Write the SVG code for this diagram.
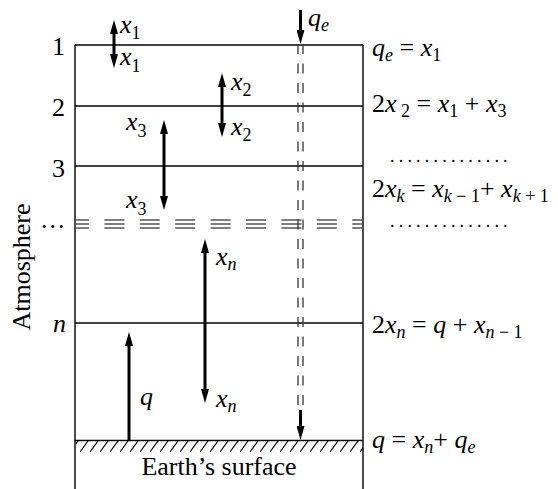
<svg xmlns="http://www.w3.org/2000/svg" width="558" height="489" viewBox="0 0 558 489">
<style>
text{font-family:"Liberation Serif","Times New Roman",serif;font-size:26px;fill:#000}
.i{font-style:italic}
.s{font-size:18px}
.dots{font-size:18px;letter-spacing:4.2px}
.ln{stroke:#000;stroke-width:1.4;fill:none}
.dl{stroke:#555;stroke-width:1.4;stroke-dasharray:20 15.4;stroke-dashoffset:6;fill:none}
.qd{stroke:#333;stroke-width:1.3;stroke-dasharray:10 9.5;fill:none}
.ar{stroke:#000;stroke-width:3;fill:none}
.h{stroke:#000;stroke-width:1.2}
</style>
<defs>
<marker id="ah" viewBox="0 0 14 8" refX="4" refY="4" markerWidth="14" markerHeight="8" markerUnits="userSpaceOnUse" orient="auto-start-reverse"><path d="M0,0 L14,4 L0,8 z" fill="#000"/></marker>
<pattern id="hatch" x="0" y="441" width="10" height="12" patternUnits="userSpaceOnUse"><line x1="0" y1="11" x2="8" y2="0" class="h"/></pattern>
</defs>
<g id="frame">
<line class="ln" x1="75" y1="45" x2="75" y2="489"/>
<line class="ln" x1="363" y1="45" x2="363" y2="489"/>
<line class="ln" x1="75" y1="45" x2="363" y2="45"/>
<line class="ln" x1="75" y1="106" x2="363" y2="106"/>
<line class="ln" x1="75" y1="166" x2="363" y2="166"/>
<line class="ln" x1="75" y1="323" x2="363" y2="323"/>
<line class="dl" x1="75" y1="220" x2="363" y2="220"/>
<line class="dl" x1="75" y1="224" x2="363" y2="224"/>
<line class="dl" x1="75" y1="228" x2="363" y2="228"/>
</g>
<g id="ground">
<line x1="75" y1="440.5" x2="363" y2="440.5" stroke="#000" stroke-width="1.6"/>
<rect x="76" y="441" width="287" height="12" fill="url(#hatch)"/>
<text x="219" y="475" text-anchor="middle">Earth’s surface</text>
</g>
<g id="connectors">
<line class="qd" x1="298" y1="44" x2="298" y2="412"/>
<line class="qd" x1="303" y1="44" x2="303" y2="412"/>
<line class="ar" x1="300.5" y1="10" x2="300.5" y2="34" marker-end="url(#ah)"/>
<line class="ar" x1="300.5" y1="410" x2="300.5" y2="430" stroke-width="2" marker-end="url(#ah)"/>
<line class="ar" x1="114" y1="30" x2="114" y2="58" marker-start="url(#ah)" marker-end="url(#ah)"/>
<line class="ar" x1="222" y1="83" x2="222" y2="127" marker-start="url(#ah)" marker-end="url(#ah)"/>
<line class="ar" x1="164" y1="130" x2="164" y2="200" marker-start="url(#ah)" marker-end="url(#ah)"/>
<line class="ar" x1="205" y1="249" x2="205" y2="393" marker-start="url(#ah)" marker-end="url(#ah)"/>
<line class="ar" x1="129" y1="440" x2="129" y2="342" marker-end="url(#ah)"/>
</g>
<g id="arrow-labels">
<text x="120" y="33" class="i">x<tspan class="s" font-style="normal" dy="6">1</tspan></text>
<text x="120" y="65" class="i">x<tspan class="s" font-style="normal" dy="7">1</tspan></text>
<text x="231" y="90" class="i">x<tspan class="s" font-style="normal" dy="6">2</tspan></text>
<text x="231" y="135" class="i">x<tspan class="s" font-style="normal" dy="6">2</tspan></text>
<text x="126" y="130" class="i">x<tspan class="s" font-style="normal" dy="7">3</tspan></text>
<text x="126" y="208" class="i">x<tspan class="s" font-style="normal" dy="7">3</tspan></text>
<text x="216" y="265" class="i">x<tspan class="s" dy="5">n</tspan></text>
<text x="216" y="407" class="i">x<tspan class="s" dy="5">n</tspan></text>
<text x="140" y="405" class="i">q</text>
<text x="308" y="26" class="i">q<tspan class="s" dy="5">e</tspan></text>
</g>
<g id="level-labels">
<text x="52" y="55">1</text>
<text x="52" y="116">2</text>
<text x="52" y="177">3</text>
<text x="41" y="228" letter-spacing="2">...</text>
<text x="53" y="332" class="i">n</text>
<text transform="translate(30,267) rotate(-90)" text-anchor="middle">Atmosphere</text>
</g>
<g id="equations">
<text x="372" y="56"><tspan class="i">q</tspan><tspan class="s i" dy="5">e</tspan><tspan dy="-5"> = </tspan><tspan class="i">x</tspan><tspan class="s" dy="5">1</tspan></text>
<text x="372" y="112">2<tspan class="i">x</tspan><tspan class="s" dy="5"> 2</tspan><tspan dy="-5"> = </tspan><tspan class="i">x</tspan><tspan class="s" dy="5">1</tspan><tspan dy="-5"> + </tspan><tspan class="i">x</tspan><tspan class="s" dy="5">3</tspan></text>
<text x="390" y="162" class="dots">..............</text>
<text x="372" y="197">2<tspan class="i">x</tspan><tspan class="s i" dy="5">k</tspan><tspan dy="-5"> = </tspan><tspan class="i">x</tspan><tspan class="s" dy="5"><tspan class="i">k</tspan> − 1</tspan><tspan dy="-5">+ </tspan><tspan class="i">x</tspan><tspan class="s" dy="5"><tspan class="i">k</tspan> + 1</tspan></text>
<text x="390" y="227" class="dots">..............</text>
<text x="372" y="333">2<tspan class="i">x</tspan><tspan class="s i" dy="5">n</tspan><tspan dy="-5"> = </tspan><tspan class="i">q</tspan> + <tspan class="i">x</tspan><tspan class="s" dy="5"><tspan class="i">n</tspan> − 1</tspan></text>
<text x="372" y="448"><tspan class="i">q</tspan> = <tspan class="i">x</tspan><tspan class="s i" dy="5">n</tspan><tspan dy="-5">+ </tspan><tspan class="i">q</tspan><tspan class="s i" dy="5">e</tspan></text>
</g>
</svg>
